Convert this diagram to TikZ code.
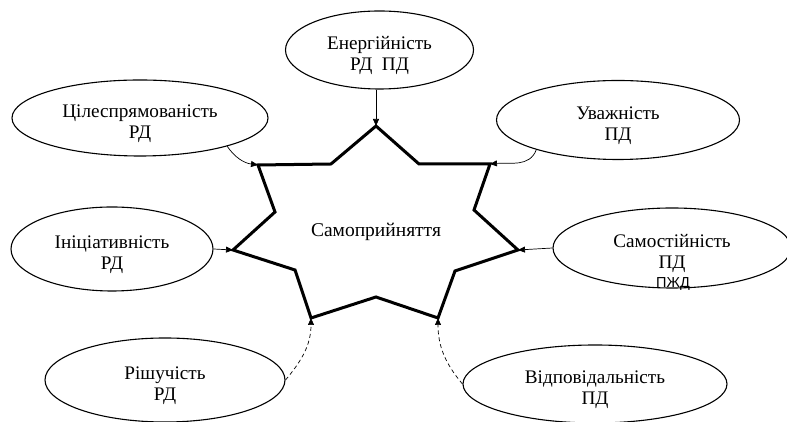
\documentclass[tikz,border=0pt]{standalone}
\usepackage{fontspec}
\setmainfont{Liberation Serif}
\newfontfamily\sansfont{Liberation Sans}
\usepackage{tikz}
\usetikzlibrary{shapes,arrows.meta,positioning,calc}

\begin{document}
\begin{tikzpicture}[
    x=1pt, y=1pt,
    trait/.style={draw, ellipse, line width=1.1pt, align=center, inner sep=0pt,
        text height=42pt, text depth=0pt, font=\fontsize{19.2}{21.5}\selectfont},
    link/.style={-{Triangle[length=7pt,width=6pt]}, line width=0.7pt},
    weak/.style={link, dash pattern=on 4pt off 3pt},
    star/.style={line width=3pt, line join=miter}
]
    \useasboundingbox (0,0) rectangle (787,422);

    % star corners
    \coordinate (v1) at (376,296);
    \coordinate (i1) at (419,258);
    \coordinate (v2) at (490,258);
    \coordinate (i2) at (474,212);
    \coordinate (v3) at (518,172);
    \coordinate (i3) at (455,151);
    \coordinate (v4) at (438,104);
    \coordinate (i4) at (376,125);
    \coordinate (v5) at (311,104);
    \coordinate (i5) at (295,152);
    \coordinate (v6) at (233,172);
    \coordinate (i6) at (275,210);
    \coordinate (v7) at (258,257);
    \coordinate (i7) at (331,258);

    \draw[star] (v1) -- (i1) -- (v2) -- (i2) -- (v3) -- (i3) -- (v4) -- (i4)
        -- (v5) -- (i5) -- (v6) -- (i6) -- (v7) -- (i7) -- cycle;

    \node[anchor=base, font=\fontsize{19.5}{21}\selectfont] (core) at (376,185) {Самоприйняття};

    \node[trait, minimum width=188, minimum height=78] (eng) at (379.5,372) {Енергійність\\РД~~ПД};
    \node[trait, minimum width=256, minimum height=76] (goal) at (140,304) {Цілеспрямованість\\РД};
    \node[trait, minimum width=243, minimum height=79] (attn) at (618,302) {Уважність\\ПД};
    \node[trait, minimum width=202, minimum height=84] (init) at (112,173) {Ініціативність\\РД};
    \node[trait, minimum width=238, minimum height=80] (self) at (672,174) {Самостійність\\ПД};
    \node[anchor=base, font=\sansfont\fontsize{14.5}{16}\selectfont, inner sep=0pt] (pzhd) at (673,134) {ПЖД};
    \node[trait, minimum width=240, minimum height=84] (dec) at (165,42) {Рішучість\\РД};
    \node[trait, minimum width=264, minimum height=78] (resp) at (595,38) {Відповідальність\\ПД};

    \draw[link] (v1 |- eng.south) -- (v1);
    \draw[link] (goal.-18) to[out=-55, in=172] (v7);
    \draw[link] (attn.-160) to[out=-110, in=5] (v2);
    \draw[link] (init.east) -- (v6);
    \draw[link] (self.west) -- (v3);
    \draw[weak] (dec.east) to[out=50, in=-90] (v5);
    \draw[weak] (resp.west) to[out=130, in=-90] (v4);
\end{tikzpicture}
\end{document}
